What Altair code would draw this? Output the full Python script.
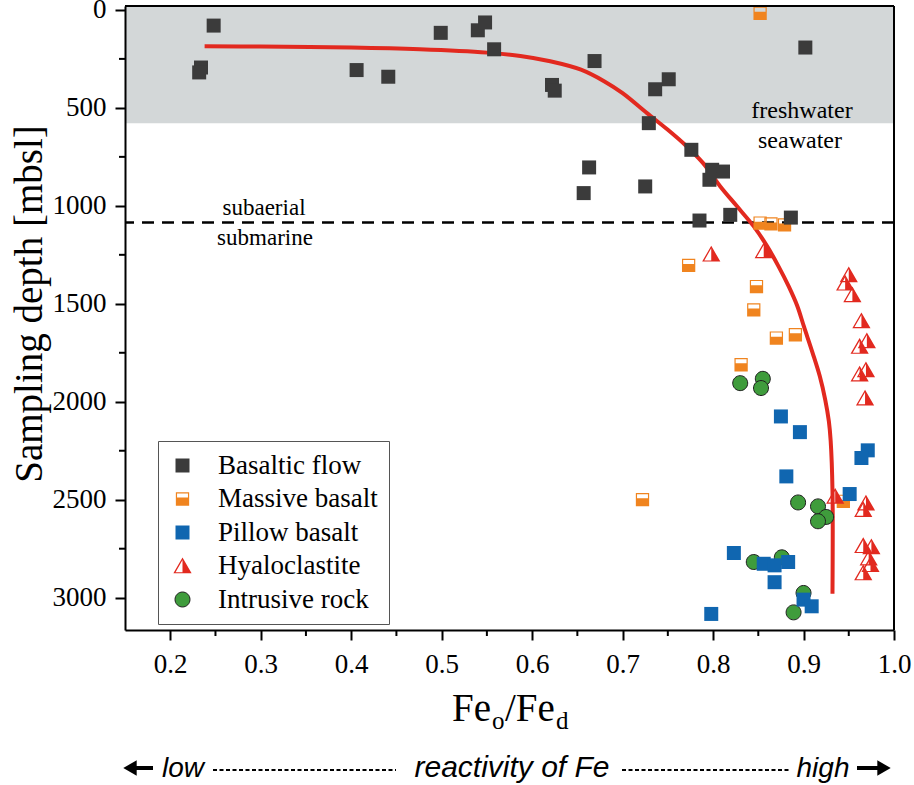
import altair as alt
import pandas as pd

# Fe_o/Fe_d ratio (x) and sampling depth in m below sea level (d) per lithology
basaltic_flow_x = [0.248, 0.234, 0.232, 0.406, 0.441, 0.499, 0.540, 0.548, 0.558, 0.622,
                   0.625, 0.669, 0.751, 0.736, 0.729, 0.776, 0.663, 0.657, 0.725, 0.799,
                   0.811, 0.796, 0.785, 0.819, 0.886, 0.902]
basaltic_flow_d = [80, 294, 319, 307, 341, 117, 104, 64, 201, 383,
                   412, 261, 354, 405, 578, 714, 804, 935, 901, 816,
                   825, 867, 1075, 1046, 1060, 192]
massive_x = [0.852, 0.852, 0.864, 0.879, 0.773, 0.848, 0.845, 0.870, 0.891, 0.831, 0.722, 0.944]
massive_d = [17, 1088, 1092, 1097, 1304, 1412, 1531, 1675, 1658, 1811, 2500, 2508]
pillow_x = [0.875, 0.896, 0.971, 0.964, 0.881, 0.951, 0.823, 0.856, 0.868, 0.883,
            0.868, 0.900, 0.909, 0.798]
pillow_d = [2075, 2155, 2248, 2287, 2381, 2471, 2772, 2827, 2835, 2818,
            2921, 3010, 3044, 3083]
hyalo_x = [0.798, 0.856, 0.950, 0.946, 0.954, 0.964, 0.970, 0.962, 0.969, 0.962,
           0.968, 0.935, 0.969, 0.966, 0.975, 0.966, 0.972, 0.974, 0.966]
hyalo_d = [1247, 1230, 1352, 1395, 1454, 1587, 1689, 1718, 1837, 1859,
           1981, 2483, 2517, 2551, 2741, 2735, 2798, 2832, 2874]
intrusive_x = [0.830, 0.855, 0.853, 0.894, 0.916, 0.925, 0.916, 0.845, 0.876, 0.900, 0.889]
intrusive_d = [1905, 1883, 1930, 2514, 2534, 2588, 2610, 2818, 2794, 2976, 3075]

# depth trend of Fe_o/Fe_d
trend_x = [0.238, 0.300, 0.400, 0.476, 0.550, 0.587, 0.620, 0.654, 0.680, 0.700,
           0.727, 0.750, 0.771, 0.789, 0.808, 0.826, 0.845, 0.860, 0.8725, 0.8835,
           0.893, 0.9005, 0.910, 0.918, 0.924, 0.928, 0.930, 0.932, 0.932]
trend_d = [185, 187, 192, 201, 218, 235, 262, 305, 365, 425,
           527, 612, 697, 782, 901, 1000, 1105, 1208, 1310, 1410,
           1510, 1617, 1750, 1870, 1990, 2100, 2200, 2450, 2980]

freshwater_base = [578]
subaerial_base = [1085]

x_ticks = [0.2, 0.3, 0.4, 0.5, 0.6, 0.7, 0.8, 0.9, 1.0]
x_minor = [0.25, 0.35, 0.45, 0.55, 0.65, 0.75, 0.85, 0.95]
y_ticks = [0, 500, 1000, 1500, 2000, 2500, 3000]
y_minor = [250, 750, 1250, 1750, 2250, 2750]

TYPES = ["Basaltic flow", "Massive basalt", "Pillow basalt", "Hyaloclastite", "Intrusive rock"]

# ---- styling ----
W, H = 769, 624
SERIF = "Liberation Serif"
SANS_IT = "'Liberation Sans Narrow', 'Liberation Sans', sans-serif"
RED = "#e2291f"

FILLS = ["#3b3b3b", "#f0841f", "#1066b0", RED, "#3f9c3c"]
STROKES = ["transparent", "transparent", "transparent", "transparent", "#1f1f1f"]
# outline ring + filled lower part
SQUARE_HALF = ("M -0.95 -0.95 L 0.95 -0.95 L 0.95 0.95 L -0.95 0.95 Z "
               "M -0.78 -0.78 L -0.78 0.78 L 0.78 0.78 L 0.78 -0.78 Z "
               "M -0.95 -0.2 L 0.95 -0.2 L 0.95 0.95 L -0.95 0.95 Z")
# outline ring + filled right half
TRIANGLE_HALF = ("M 0 -1.2 L 1.3 1.05 L -1.3 1.05 Z "
                 "M 0 -0.84 L -0.99 0.88 L 0.99 0.88 Z "
                 "M 0 -1.2 L 1.3 1.05 L 0 1.05 Z")
CIRCLE = "M 1.07 0 A 1.07 1.07 0 1 1 -1.07 0 A 1.07 1.07 0 1 1 1.07 0 Z"
SHAPES = ["square", SQUARE_HALF, "square", TRIANGLE_HALF, CIRCLE]

xs = alt.Scale(domain=[0.15, 1.0], nice=False, zero=False)
ys = alt.Scale(domain=[-20, 3165], reverse=True, nice=False, zero=False)
x_axis = alt.Axis(values=x_ticks, format=".1f", title=None, labelFlush=False,
                  labelOverlap=False, tickSize=10, labelPadding=11, zindex=1,
                  labelFont=SERIF, labelFontSize=27, labelColor="black")
y_axis = alt.Axis(values=y_ticks, format="d", title=None, tickSize=10, labelPadding=9,
                  labelOverlap=False, zindex=1,
                  labelFont=SERIF, labelFontSize=27, labelColor="black")

# ---- tables ----
order = [("Massive basalt", massive_x, massive_d),
         ("Basaltic flow", basaltic_flow_x, basaltic_flow_d),
         ("Intrusive rock", intrusive_x, intrusive_d),
         ("Hyaloclastite", hyalo_x, hyalo_d),
         ("Pillow basalt", pillow_x, pillow_d)]
rows = []
for name, xv, dv in order:
    rows += [{"type": name, "x": a, "d": b} for a, b in zip(xv, dv)]
points_df = pd.DataFrame(rows)
trend_df = pd.DataFrame({"x": trend_x, "d": trend_d, "i": range(len(trend_x))})

# ---- layers ----
band = alt.Chart(pd.DataFrame({"top": [-20], "bottom": freshwater_base})).mark_rect(
    color="#d3d7d8").encode(
    y=alt.Y("top:Q", scale=ys, axis=y_axis), y2="bottom:Q",
    x=alt.value(0), x2=alt.value(W))

boundary = alt.Chart(pd.DataFrame({"d": subaerial_base})).mark_rule(
    color="black", strokeWidth=2.5, strokeDash=[12, 8]).encode(
    y=alt.Y("d:Q", scale=ys, axis=y_axis))

trend = alt.Chart(trend_df).mark_line(color=RED, strokeWidth=4, interpolate="catmull-rom").encode(
    x=alt.X("x:Q", scale=xs, axis=x_axis),
    y=alt.Y("d:Q", scale=ys, axis=y_axis),
    order="i:Q")

legend = alt.Legend(title=None, orient="none", legendX=33, legendY=435,
                    labelFont=SERIF, labelFontSize=27, labelColor="black",
                    symbolSize=196, symbolStrokeWidth=1, labelOffset=22,
                    padding=11, rowPadding=5.5, strokeColor="#555555", fillColor="white")

points = alt.Chart(points_df).mark_point(filled=True, size=196, opacity=1, strokeWidth=1).encode(
    x=alt.X("x:Q", scale=xs, axis=x_axis),
    y=alt.Y("d:Q", scale=ys, axis=y_axis),
    shape=alt.Shape("type:N", scale=alt.Scale(domain=TYPES, range=SHAPES), legend=legend),
    fill=alt.Fill("type:N", scale=alt.Scale(domain=TYPES, range=FILLS), legend=legend),
    stroke=alt.Stroke("type:N", scale=alt.Scale(domain=TYPES, range=STROKES), legend=legend))

minor_x = alt.Chart(pd.DataFrame({"v": x_minor})).mark_rule(color="black", strokeWidth=2).encode(
    x=alt.X("v:Q", scale=xs, axis=x_axis), y=alt.value(H), y2=alt.value(H + 6))
minor_y = alt.Chart(pd.DataFrame({"v": y_minor})).mark_rule(color="black", strokeWidth=2).encode(
    y=alt.Y("v:Q", scale=ys, axis=y_axis), x=alt.value(-6), x2=alt.value(0))

frame_top = alt.Chart(pd.DataFrame({"k": [0]})).mark_rule(color="black", strokeWidth=2).encode(
    x=alt.value(0), x2=alt.value(W), y=alt.value(0))
frame_right = alt.Chart(pd.DataFrame({"k": [0]})).mark_rule(color="black", strokeWidth=2).encode(
    x=alt.value(W), y=alt.value(0), y2=alt.value(H))


def label(text, px, py, size, font=SERIF, **kw):
    return alt.Chart(pd.DataFrame({"t": [text]})).mark_text(
        fontSize=size, font=font, color="black", **kw).encode(
        x=alt.value(px), y=alt.value(py), text="t:N")


texts = [
    label("freshwater", 677, 105, 24, baseline="middle"),
    label("seawater", 675, 135, 24, baseline="middle"),
    label("subaerial", 139, 202, 23, baseline="middle"),
    label("submarine", 140, 232, 23, baseline="middle"),
    label("Sampling depth [mbsl]", -95, 298, 39, angle=270, baseline="middle"),
    label("Fe", 327, 715, 39, align="left", baseline="alphabetic"),
    label("o", 367, 723, 25, align="left", baseline="alphabetic"),
    label("/Fe", 380, 715, 39, align="left", baseline="alphabetic"),
    label("d", 431, 723, 25, align="left", baseline="alphabetic"),
    label("low", 58, 771, 28, font=SANS_IT, fontStyle="italic", baseline="alphabetic"),
    label("reactivity of Fe", 387, 771, 30, font=SANS_IT, fontStyle="italic", baseline="alphabetic"),
    label("high", 698, 771, 28, font=SANS_IT, fontStyle="italic", baseline="alphabetic"),
]

one = pd.DataFrame({"k": [0]})
dash_l = alt.Chart(one).mark_rule(color="black", strokeWidth=2, strokeDash=[4, 2.5]).encode(
    x=alt.value(88), x2=alt.value(271), y=alt.value(764))
dash_r = alt.Chart(one).mark_rule(color="black", strokeWidth=2, strokeDash=[4, 2.5]).encode(
    x=alt.value(497), x2=alt.value(665), y=alt.value(764))
shaft_l = alt.Chart(one).mark_rule(color="black", strokeWidth=4).encode(
    x=alt.value(8), x2=alt.value(28), y=alt.value(762))
shaft_r = alt.Chart(one).mark_rule(color="black", strokeWidth=4).encode(
    x=alt.value(732), x2=alt.value(753), y=alt.value(762))
head_l = alt.Chart(one).mark_point(shape="triangle-left", filled=True, opacity=1, color="black",
                                   size=240).encode(x=alt.value(5), y=alt.value(762))
head_r = alt.Chart(one).mark_point(shape="triangle-right", filled=True, opacity=1, color="black",
                                   size=240).encode(x=alt.value(759), y=alt.value(762))

chart = alt.layer(
    band, boundary, trend, points, minor_x, minor_y, frame_top, frame_right,
    *texts, dash_l, dash_r, shaft_l, shaft_r, head_l, head_r
).properties(
    width=W, height=H,
    padding={"left": 125, "top": 6, "right": 20, "bottom": 155},
    autosize=alt.AutoSizeParams(type="none"),
    background="white",
).configure_view(
    strokeWidth=0
).configure_axis(
    domainColor="black", domainWidth=2, tickColor="black", tickWidth=2, grid=False
)

chart.save("out.html", embed_options={"renderer": "svg", "actions": False})
